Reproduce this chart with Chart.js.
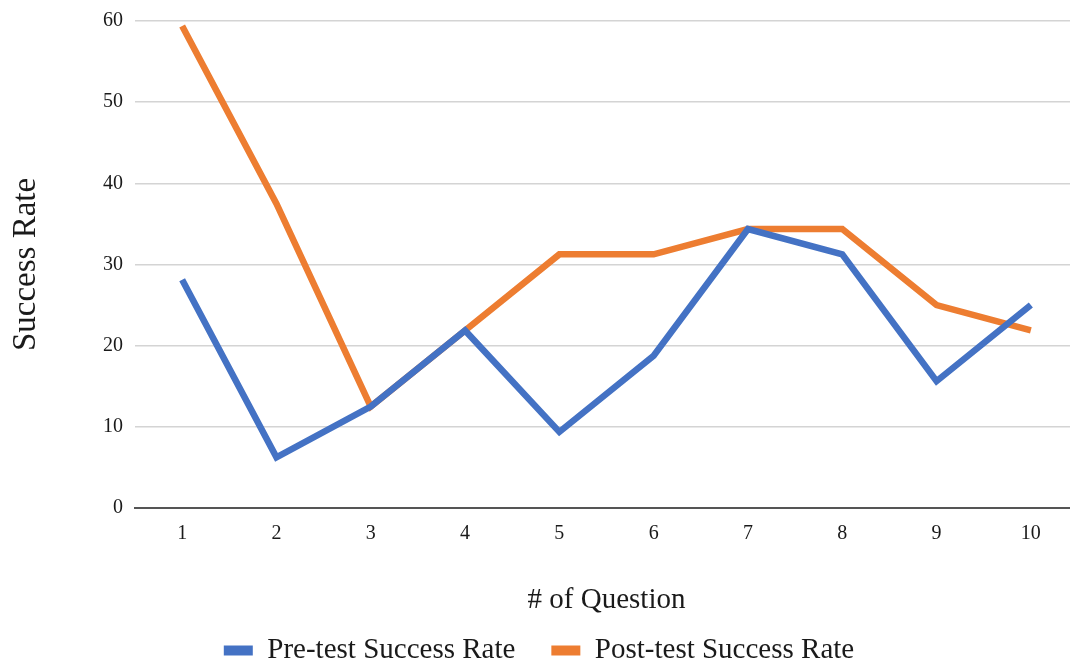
<!DOCTYPE html>
<html>
<head>
<meta charset="utf-8">
<script src="https://cdn.jsdelivr.net/npm/chart.js@4.4.1/dist/chart.umd.min.js"></script>
<style>
  html, body { margin: 0; padding: 0; background: #fff; overflow: hidden; }
  /* canvas is a bit bigger than the window; the right and bottom edges get cut off */
  #wrap { width: 1078px; height: 675px; position: relative; }
</style>
</head>
<body>
<div id="wrap"><canvas id="myChart"></canvas></div>
<script>
// question numbers along the x axis
const questions = ['1', '2', '3', '4', '5', '6', '7', '8', '9', '10'];
// success rate per question (%)
const preTest = [28.125, 6.25, 12.5, 21.875, 9.375, 18.75, 34.375, 31.25, 15.625, 25];
const postTest = [59.375, 37.5, 12.5, 21.875, 31.25, 31.25, 34.375, 34.375, 25, 21.875];
const yTicks = [0, 10, 20, 30, 40, 50, 60];

const serif = "'Liberation Serif', 'DejaVu Serif', serif";
const textColor = '#1a1a1a';

const ctx = document.getElementById('myChart').getContext('2d');

new Chart(ctx, {
  type: 'line',
  data: {
    labels: questions,
    datasets: [
      {
        label: 'Pre-test Success Rate',
        data: preTest,
        borderColor: '#4472C4',
        backgroundColor: '#4472C4',
        borderWidth: 6.5,
        pointRadius: 0,
        tension: 0
      },
      {
        label: 'Post-test Success Rate',
        data: postTest,
        borderColor: '#ED7D31',
        backgroundColor: '#ED7D31',
        borderWidth: 6.5,
        pointRadius: 0,
        tension: 0
      }
    ]
  },
  options: {
    responsive: true,
    maintainAspectRatio: false,
    animation: false,
    layout: { padding: { top: 21, right: 0, bottom: 0, left: 0 } },
    plugins: {
      tooltip: { enabled: false },
      legend: {
        position: 'bottom',
        labels: {
          font: { family: serif, size: 29 },
          color: textColor,
          boxWidth: 29,
          boxHeight: 10,
          padding: 36,
          // flat swatches, no outline from the line width
          generateLabels(chart) {
            return Chart.defaults.plugins.legend.labels.generateLabels(chart)
              .map(item => ({ ...item, lineWidth: 0 }));
          }
        }
      }
    },
    scales: {
      x: {
        offset: true,
        grid: { display: false },
        border: { display: true, color: '#555', width: 2 },
        ticks: {
          font: { family: serif, size: 20 },
          color: textColor,
          padding: 6,
          maxRotation: 0
        },
        title: {
          display: true,
          text: '# of Question',
          font: { family: serif, size: 29 },
          color: textColor,
          padding: { top: 0, bottom: -18 }
        },
        afterFit(scale) { scale.height = 92; }
      },
      y: {
        min: 0,
        max: 60,
        afterBuildTicks(scale) { scale.ticks = yTicks.map(v => ({ value: v })); },
        grid: { color: '#d4d4d4', lineWidth: 1.5, drawTicks: false },
        border: { display: false },
        ticks: {
          font: { family: serif, size: 20 },
          color: textColor,
          padding: 12
        },
        title: {
          display: true,
          text: 'Success Rate',
          font: { family: serif, size: 33 },
          color: textColor,
          padding: { top: 7, bottom: 0 }
        },
        afterFit(scale) {
          scale.width = 135;
          // top label may poke into the layout padding
          scale.paddingTop = 0;
        }
      }
    }
  }
});
</script>
</body>
</html>
